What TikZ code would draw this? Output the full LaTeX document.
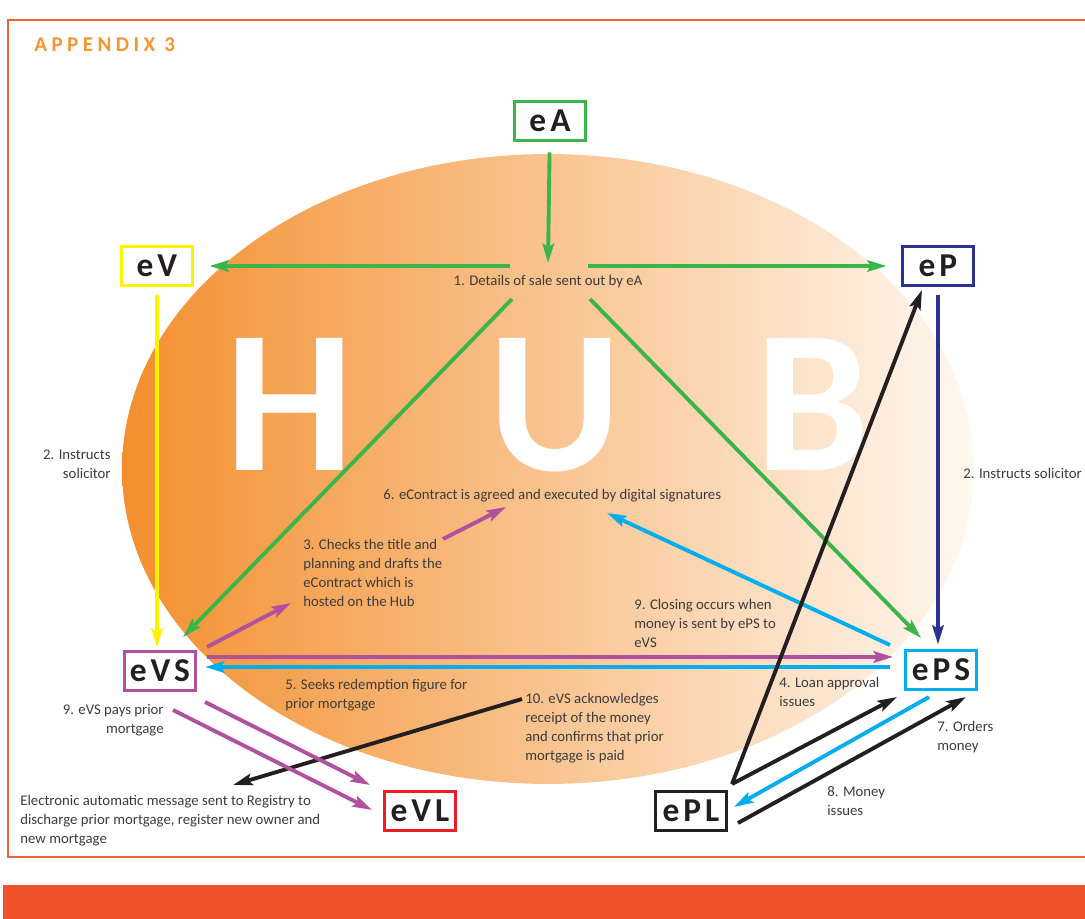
\documentclass[tikz,border=0pt]{standalone}
\usepackage{fontspec}
\setmainfont{Carlito}
\newfontfamily\boxfont[LetterSpace=12]{Carlito}
\newfontfamily\appfont[LetterSpace=21]{Carlito}
\usetikzlibrary{arrows.meta}
\definecolor{framecol}{HTML}{F26234}
\definecolor{barcol}{HTML}{F0522A}
\definecolor{appcol}{HTML}{F7962F}
\definecolor{hubL}{HTML}{F38F2E}
\definecolor{hubM}{HTML}{F8BB82}
\definecolor{hubR}{HTML}{FFF8F1}
\definecolor{cgreen}{HTML}{3AB54A}
\definecolor{cyellow}{HTML}{FFF200}
\definecolor{cnavy}{HTML}{2E3192}
\definecolor{cpurple}{HTML}{B0509F}
\definecolor{ccyan}{HTML}{00AEEF}
\definecolor{cred}{HTML}{ED1C24}
\definecolor{cblack}{HTML}{231F20}
\definecolor{txtgray}{HTML}{3C3C3C}
\begin{document}
\begin{tikzpicture}[x=0.02cm, y=-0.02cm,
    party/.style={draw=#1, line width=2.2pt, fill=white, minimum width=1.42cm,
        minimum height=0.78cm, inner sep=0pt, text=cblack,
        font={\boxfont\bfseries\fontsize{19}{21}\selectfont}},
    lbl/.style={inner sep=0pt, text=txtgray, font={\fontsize{8.4}{10.8}\selectfont}},
    flow/.style={draw=#1, line width=2.2pt,
        -{Stealth[length=11pt, width=6.5pt, inset=2pt]}},
    hubletter/.style={inner sep=0pt, anchor=base, text=white, text depth=0pt,
        font={\bfseries\fontsize{116}{116}\selectfont}}]
    \useasboundingbox (0, 0) rectangle (1085, 919);
    \draw[framecol, line width=1.1pt] (1085, 20) -- (8, 20) -- (8, 857) -- (1085, 857);
    \fill[barcol] (3, 885) rectangle (1085, 919);
    \node[anchor=west, inner sep=0pt, text=appcol,
        font={\appfont\bfseries\fontsize{12}{12}\selectfont}] (title) at(34, 45) {APPENDIX 3};
    \shade[left color=hubL, middle color=hubM, right color=hubR]
        (548, 469) ellipse [x radius=8.52cm, y radius=6.3cm];
    \node[hubletter] (hubH) at(290, 470) {H};
    \node[hubletter] (hubU) at(555, 470) {U};
    \node[hubletter] (hubB) at(813, 470) {B};
    % the parties
    \node[party=cgreen] (eA) at(550, 121) {eA};
    \node[party=cyellow] (eV) at(157, 266) {eV};
    \node[party=cnavy] (eP) at(938, 266) {eP};
    \node[party=cpurple] (eVS) at(160, 671) {eVS};
    \node[party=ccyan] (ePS) at(941, 670) {ePS};
    \node[party=cred] (eVL) at(420, 811) {eVL};
    \node[party=cblack] (ePL) at(691, 811) {ePL};
    % the steps
    \node[lbl] (details) at(548, 282) {1. Details of sale sent out by eA};
    \node[lbl, anchor=east, align=right] (instrV) at(111, 464) {2. Instructs\\solicitor};
    \node[lbl, anchor=west] (instrP) at(963, 473) {2. Instructs solicitor};
    \node[lbl, anchor=west, align=left] (checks) at(303, 573) {3. Checks the title and\\planning and drafts the\\eContract which is\\hosted on the Hub};
    \node[lbl, anchor=west] (agreed) at(383, 496) {6. eContract is agreed and executed by digital signatures};
    \node[lbl, anchor=west, align=left] (closing) at(634, 623) {9. Closing occurs when\\money is sent by ePS to\\eVS};
    \node[lbl, anchor=west, align=left] (seeks) at(285, 695) {5. Seeks redemption figure for\\prior mortgage};
    \node[lbl, anchor=west, align=left] (loan) at(779, 692) {4. Loan approval\\issues};
    \node[lbl, anchor=west, align=left] (ack) at(525, 728) {10. eVS acknowledges\\receipt of the money\\and confirms that prior\\mortgage is paid};
    \node[lbl, anchor=east, align=right] (pays) at(164, 720) {9. eVS pays prior\\mortgage};
    \node[lbl, anchor=west, align=left] (orders) at(937, 737) {7. Orders\\money};
    \node[lbl, anchor=west, align=left] (issues) at(827, 801) {8. Money\\issues};
    \node[lbl, anchor=west, align=left] (registry) at(20, 821) {Electronic automatic message sent to Registry to\\discharge prior mortgage, register new owner and\\new mortgage};
    % arrow ends
    \coordinate (hubTop) at(548, 263);
    \coordinate (splitL) at(510, 266);
    \coordinate (splitR) at(588, 266);
    \coordinate (diagL) at(512, 299);
    \coordinate (diagLend) at(183, 637);
    \coordinate (diagR) at(590, 299);
    \coordinate (diagRend) at(921, 638);
    \coordinate (draftS) at(207, 647);
    \coordinate (draftE) at(291, 603);
    \coordinate (signS) at(443, 539);
    \coordinate (signE) at(506, 507);
    \coordinate (closeS) at(890, 645);
    \coordinate (closeE) at(607, 513);
    \coordinate (redS) at(207, 657);
    \coordinate (redE) at(893, 657);
    \coordinate (payS) at(890, 667);
    \coordinate (payE) at(205, 667);
    \coordinate (plTop) at(732, 784);
    \coordinate (loanE) at(922, 290);
    \coordinate (apprE) at(897, 697);
    \coordinate (orderS) at(929, 697);
    \coordinate (orderE) at(734, 807);
    \coordinate (moneyS) at(738, 823);
    \coordinate (moneyE) at(966, 697);
    \coordinate (ackS) at(522, 699);
    \coordinate (ackE) at(233, 785);
    \coordinate (discS) at(205, 702);
    \coordinate (discE) at(370, 785);
    \coordinate (priorS) at(173, 710);
    \coordinate (priorE) at(372, 810);
    % the flows
    \draw[flow=cgreen, shorten <=0.2cm] (eA) -- (hubTop);
    \draw[flow=cgreen, shorten >=0.3cm] (splitL) -- (eV);
    \draw[flow=cgreen, shorten >=0.28cm] (splitR) -- (eP);
    \draw[flow=cgreen] (diagL) -- (diagLend);
    \draw[flow=cgreen] (diagR) -- (diagRend);
    \draw[flow=cyellow, shorten <=0.16cm, shorten >=0.04cm] (eV.south) -- (eV.south |- eVS.north);
    \draw[flow=cnavy, shorten <=0.16cm, shorten >=0.08cm] (eP.south) -- (eP.south |- ePS.north);
    \draw[flow=cpurple] (draftS) -- (draftE);
    \draw[flow=cpurple] (signS) -- (signE);
    \draw[flow=ccyan] (closeS) -- (closeE);
    \draw[flow=cpurple] (redS) -- (redE);
    \draw[flow=ccyan] (payS) -- (payE);
    \draw[flow=cblack] (plTop) -- (loanE);
    \draw[flow=cblack] (plTop) -- (apprE);
    \draw[flow=ccyan] (orderS) -- (orderE);
    \draw[flow=cblack] (moneyS) -- (moneyE);
    \draw[flow=cblack] (ackS) -- (ackE);
    \draw[flow=cpurple] (discS) -- (discE);
    \draw[flow=cpurple] (priorS) -- (priorE);
\end{tikzpicture}
\end{document}
